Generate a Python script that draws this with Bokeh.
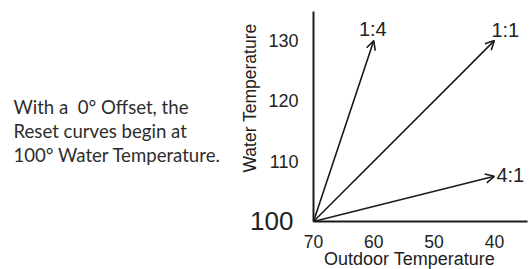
import math
from bokeh.plotting import figure
from bokeh.models import Range1d, FixedTicker, Label, Arrow, OpenHead, ColumnDataSource
from bokeh.embed import file_html
from bokeh.resources import INLINE

# ---- data ----
origin_outdoor = 70
origin_water = 100
curve_names = ["1:4", "1:1", "4:1"]
end_outdoor = [60, 40, 40]
end_water = [130, 130, 107.5]
x_ticks = [70, 60, 50, 40]
y_ticks = [110, 120, 130]
origin_label = "100"
x_title = "Outdoor Temperature"
y_title = "Water Temperature"
note_lines = ["With a \u00a00\u00b0 Offset, the", "Reset curves begin at", "100\u00b0 Water Temperature."]

# ---- layout (pixels) ----
W, H = 530, 269
OX, OY = 313, 221          # pixel position of the origin (70, 100)
K = 6.03                   # pixels per degree on both axes
AX_RIGHT_PX, AX_TOP_PX = 527, 11

INK = "#1a1a1a"
TXT = "#222222"
CHART_FONT = "Liberation Sans"


def dx(px):
    return origin_outdoor - (px - OX) / K


def dy(py):
    return origin_water + (OY - py) / K


def px_x(v):
    return OX + (origin_outdoor - v) * K


def px_y(v):
    return OY - (v - origin_water) * K


p = figure(width=W, height=H,
           x_range=Range1d(dx(0), dx(W)), y_range=Range1d(dy(H), dy(0)),
           output_backend="svg", toolbar_location=None,
           min_border=0, min_border_left=0, min_border_right=0,
           min_border_top=0, min_border_bottom=0)
p.grid.visible = False
p.outline_line_color = None

p.xaxis.ticker = FixedTicker(ticks=x_ticks)
p.yaxis.ticker = FixedTicker(ticks=y_ticks)
p.xaxis.fixed_location = origin_water
p.yaxis.fixed_location = origin_outdoor
p.xaxis.bounds = (dx(AX_RIGHT_PX), origin_outdoor)
p.yaxis.bounds = (origin_water, dy(AX_TOP_PX))
for ax in (p.xaxis[0], p.yaxis[0]):
    ax.axis_line_width = 2
    ax.axis_line_color = INK
    ax.major_tick_in = 0
    ax.major_tick_out = 0
    ax.minor_tick_in = 0
    ax.minor_tick_out = 0
    ax.major_label_text_font = CHART_FONT
    ax.major_label_text_color = TXT
p.xaxis.major_label_text_font_size = "17.5px"
p.yaxis.major_label_text_font_size = "18px"
p.xaxis.major_label_standoff = 13
p.yaxis.major_label_standoff = 15

# big origin label
p.add_layout(Label(x=dx(OX - 20), y=dy(OY - 0.5), text=origin_label,
                   text_align="right", text_baseline="middle",
                   text_font=CHART_FONT, text_font_size="26px", text_color=TXT))

# arrows
src = ColumnDataSource(dict(x0=[origin_outdoor] * 3, y0=[origin_water] * 3,
                            x1=end_outdoor, y1=end_water))
p.add_layout(Arrow(source=src, x_start="x0", y_start="y0", x_end="x1", y_end="y1",
                   line_width=1.6, line_color=INK,
                   end=OpenHead(size=9, line_width=1.6, line_color=INK)))

# curve labels (pixel offsets from arrow tips; +y is down)
lab_dx = [-1, -3, 2]
lab_dy = [-12, -11, -1.3]
lab_align = ["center", "left", "left"]
for name, ex, ey, ox, oy, al in zip(curve_names, end_outdoor, end_water, lab_dx, lab_dy, lab_align):
    p.add_layout(Label(x=dx(px_x(ex) + ox), y=dy(px_y(ey) + oy), text=name,
                       text_align=al, text_baseline="middle",
                       text_font=CHART_FONT, text_font_size="20px", text_color=TXT))

# axis titles
p.add_layout(Label(x=dx(249), y=dy(97.5), text=y_title, angle=math.pi / 2,
                   text_align="center", text_baseline="middle",
                   text_font=CHART_FONT, text_font_size="17.5px", text_color=TXT))
p.add_layout(Label(x=dx(409), y=dy(258.5), text=x_title,
                   text_align="center", text_baseline="middle",
                   text_font=CHART_FONT, text_font_size="18px", text_color=TXT))

# note text
for i, line in enumerate(note_lines):
    p.add_layout(Label(x=dx(13), y=dy(106 + 24 * i), text=line,
                       text_align="left", text_baseline="middle",
                       text_font="Lato", text_font_size="18.6px", text_color="#2d2d2d"))

open("out.html", "w").write(file_html(p, INLINE))
